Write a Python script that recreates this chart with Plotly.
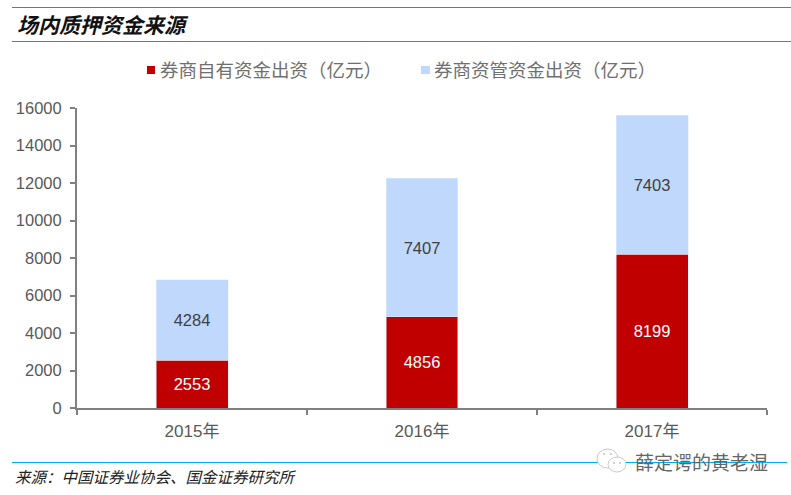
import plotly.graph_objects as go

W, H = 791, 495
L, R, T, B = 77, 767, 108, 408

years = ["2015年", "2016年", "2017年"]
own_funds = [2553, 4856, 8199]
managed_funds = [4284, 7407, 7403]
y_ticks = [0, 2000, 4000, 6000, 8000, 10000, 12000, 14000, 16000]
own_name = "券商自有资金出资（亿元）"
managed_name = "券商资管资金出资（亿元）"
own_color = "#c00000"
managed_color = "#bfd8fb"

CJK = "Noto Sans CJK SC"
LATIN = "Liberation Sans, " + CJK


def px(x):
    return (x - L) / (R - L)


def py(y):
    return (B - y) / (B - T)


fig = go.Figure()
fig.add_trace(go.Bar(
    x=years, y=own_funds, name=own_name,
    marker_color=own_color,
    text=own_funds, textposition="inside", insidetextanchor="middle",
    textfont=dict(color="white", size=16.5, family=LATIN),
    hoverinfo="skip",
))
fig.add_trace(go.Bar(
    x=years, y=managed_funds, name=managed_name,
    marker_color=managed_color,
    text=managed_funds, textposition="inside", insidetextanchor="middle",
    textfont=dict(color="#404040", size=16.5, family=LATIN),
    hoverinfo="skip",
))


def rule(x0, x1, y, color):
    fig.add_shape(type="line", xref="paper", yref="paper",
                  x0=px(x0), x1=px(x1), y0=py(y), y1=py(y),
                  line=dict(color=color, width=1))


def box(kind, x0, y0, x1, y1, fill, line="rgba(0,0,0,0)"):
    fig.add_shape(type=kind, xref="paper", yref="paper",
                  x0=px(x0), x1=px(x1), y0=py(y0), y1=py(y1),
                  line=dict(color=line, width=1), fillcolor=fill)


def label(text, x, y, **font):
    fig.add_annotation(text=text, xref="paper", yref="paper", x=px(x), y=py(y),
                       xanchor="left", yanchor="middle", showarrow=False,
                       font=dict(family=CJK, **font))


rule(12, 791, 7.5, "#2191c9")
rule(12, 791, 41.5, "#2191c9")
rule(12, 787, 462.5, "#00aeef")

# legend
box("rect", 147, 66, 155, 74, own_color)
box("rect", 421, 66, 430, 74, managed_color)
label(own_name, 158, 69.5, size=18.5, color="#707070")
label(managed_name, 432, 69.5, size=18.5, color="#707070")

# watermark bubbles
box("circle", 597, 449, 618, 468, "white", "#c8c8c8")
box("circle", 608, 457, 626, 472, "white", "#c8c8c8")
box("circle", 603, 453, 605, 455, "#c0c0c0")
box("circle", 610, 453, 612, 455, "#c0c0c0")
box("circle", 613, 462, 615, 464, "#c0c0c0")
box("circle", 619, 462, 621, 464, "#c0c0c0")

label("场内质押资金来源", 15, 24, size=21, color="#111111", style="italic", weight="bold")
label("来源：中国证券业协会、国金证券研究所", 13, 476, size=15.5, color="#222222", style="italic")
label("薛定谔的黄老湿", 633, 461, size=19, color="#666666")

fig.update_layout(
    width=W, height=H,
    margin=dict(l=L, r=W - R, t=T, b=H - B, pad=0),
    barmode="stack", bargap=0.687, showlegend=False,
    paper_bgcolor="white", plot_bgcolor="white",
    font=dict(family=LATIN, color="#595959"),
    xaxis=dict(
        type="category", tickson="boundaries", ticks="outside", ticklen=5, tickwidth=2,
        tickcolor="#808080", showline=True, linecolor="#808080", linewidth=2,
        tickfont=dict(size=17, color="#595959", family=LATIN), showgrid=False,
        ticklabelstandoff=7,
    ),
    yaxis=dict(
        range=[0, 16000], tickvals=y_ticks, tickformat="d", ticks="outside", ticklen=5, tickwidth=2,
        tickcolor="#808080", showline=True, linecolor="#808080", linewidth=2,
        tickfont=dict(size=16.5, color="#595959", family=LATIN), showgrid=False, zeroline=False,
        ticklabelstandoff=5,
    ),
)

# the page's default body margin would push the figure 8px off
fig.write_html("out.html", config={"displayModeBar": False},
               post_script="document.body.style.margin='0';")
